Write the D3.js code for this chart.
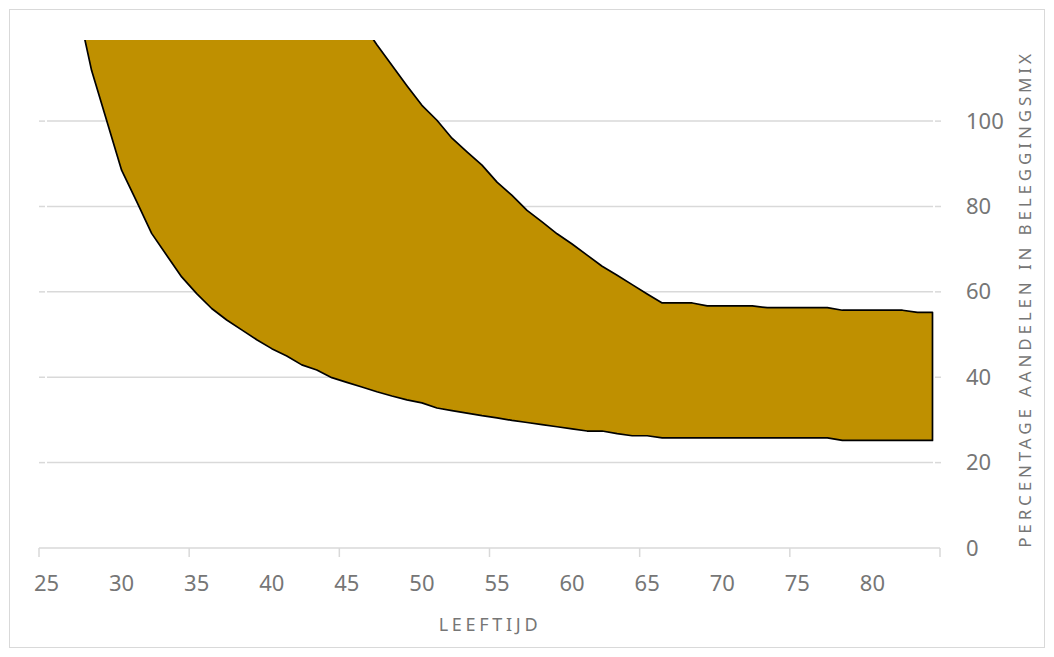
<!DOCTYPE html>
<html><head><meta charset="utf-8">
<script src="https://cdn.jsdelivr.net/npm/d3@7"></script>
<style>
body{margin:0;background:#fff}
svg{display:block}
text{font-family:"Noto Sans",sans-serif;fill:#767676}
</style>
</head><body>
<svg id="c" width="1054" height="657"></svg>
<script>
// categories on the x axis (one per year of age)
const ages = d3.range(25, 85);
// ages that carry data
const seriesAges = d3.range(27, 85);
// lower edge of the band (% aandelen)
const lowerValues = [128, 111.9, 100.2, 88.5, 81.2, 73.7, 68.6, 63.5, 59.6, 56.1,
  53.4, 51.1, 48.8, 46.7, 45.0, 42.9, 41.7, 39.9, 38.8, 37.7,
  36.6, 35.6, 34.7, 34.0, 32.8, 32.2, 31.6, 31.0, 30.5, 29.9,
  29.4, 28.9, 28.4, 27.9, 27.4, 27.4, 26.8, 26.3, 26.3,
  25.8, 25.8, 25.8, 25.8, 25.8, 25.8, 25.8, 25.8, 25.8, 25.8, 25.8, 25.8,
  25.2, 25.2, 25.2, 25.2, 25.2, 25.2, 25.2];
// upper edge of the band (% aandelen); values above the chart top are cut off
const upperValues = [130, 130, 130, 130, 130, 130, 130, 130, 130, 130,
  130, 130, 130, 130, 130, 130, 130, 130, 130,
  123, 117.9, 113.1, 108.3, 103.7, 100.2, 96.0, 92.8, 89.7, 85.7,
  82.6, 79.1, 76.4, 73.6, 71.2, 68.6, 66.0, 63.9, 61.7, 59.5,
  57.4, 57.4, 57.4, 56.7, 56.7, 56.7, 56.7,
  56.3, 56.3, 56.3, 56.3, 56.3, 55.7, 55.7, 55.7, 55.7, 55.7, 55.2, 55.2];
const xLabels = [25, 30, 35, 40, 45, 50, 55, 60, 65, 70, 75, 80];
const xTickAges = [25, 35, 45, 55, 65, 75];
const yTicks = [0, 20, 40, 60, 80, 100];
const yGrid = [20, 40, 60, 80, 100];
const xTitle = "LEEFTIJD";
const yTitle = "PERCENTAGE AANDELEN IN BELEGGINGSMIX";

const svg = d3.select("#c");
const L = 39, R = 940, T = 40, B = 548;
const x = d3.scaleBand().domain(ages).range([L, R]);
const cx = a => x(a) + x.bandwidth() / 2;
const y = d3.scaleLinear().domain([0, 119]).range([B, T]);

// outer border
svg.append("rect").attr("x", 9.5).attr("y", 9.5).attr("width", 1035).attr("height", 638)
  .attr("fill", "none").attr("stroke", "#d9d9d9").attr("stroke-width", 1);

// gridlines (with small tick stubs at both ends)
const grid = svg.append("g").attr("stroke", "#d9d9d9").attr("stroke-width", 1.5);
yGrid.forEach(v => {
  [[L, L + 6], [L + 8, R - 7], [R - 5, R + 1]].forEach(s => {
    grid.append("line").attr("x1", s[0]).attr("x2", s[1])
      .attr("y1", y(v)).attr("y2", y(v));
  });
});

// band
const data = seriesAges.map((a, i) => ({age: a, lo: lowerValues[i], hi: upperValues[i]}));
svg.append("clipPath").attr("id", "clip").append("rect")
  .attr("x", L).attr("y", T).attr("width", R - L + 2).attr("height", B - T);
const area = d3.area().x(d => cx(d.age)).y0(d => y(d.lo)).y1(d => y(d.hi));
svg.append("path").datum(data).attr("clip-path", "url(#clip)")
  .attr("d", area).attr("fill", "#BF9000").attr("stroke", "#000")
  .attr("stroke-width", 1.7).attr("stroke-linejoin", "round");

// x axis line and tick marks
const ax = svg.append("g").attr("stroke", "#d9d9d9").attr("stroke-width", 1.5);
ax.append("line").attr("x1", L).attr("x2", R).attr("y1", y(0)).attr("y2", y(0));
xTickAges.map(a => x(a)).concat([R]).forEach(px => {
  ax.append("line").attr("x1", px).attr("x2", px).attr("y1", y(0)).attr("y2", y(0) + 9);
});

// x labels
const xa = svg.append("g").attr("transform", `translate(0,${y(0)})`)
  .call(d3.axisBottom(x).tickValues(xLabels).tickSize(0).tickPadding(27));
xa.select(".domain").remove();
xa.selectAll("text").attr("font-size", 22).attr("font-family", null).attr("fill", null);

// y labels (right side)
const ya = svg.append("g").attr("transform", "translate(966,0)")
  .call(d3.axisRight(y).tickValues(yTicks).tickSize(0).tickPadding(0));
ya.select(".domain").remove();
ya.selectAll("text").attr("font-size", 22).attr("font-family", null).attr("fill", null);

// titles
svg.append("text").attr("x", 490).attr("y", 631).attr("text-anchor", "middle")
  .attr("font-size", 18).attr("letter-spacing", "3.7px").text(xTitle);
svg.append("text").attr("transform", "translate(1031,299) rotate(-90)")
  .attr("text-anchor", "middle").attr("font-size", 17).attr("letter-spacing", "3.85px").text(yTitle);
</script>
</body></html>
